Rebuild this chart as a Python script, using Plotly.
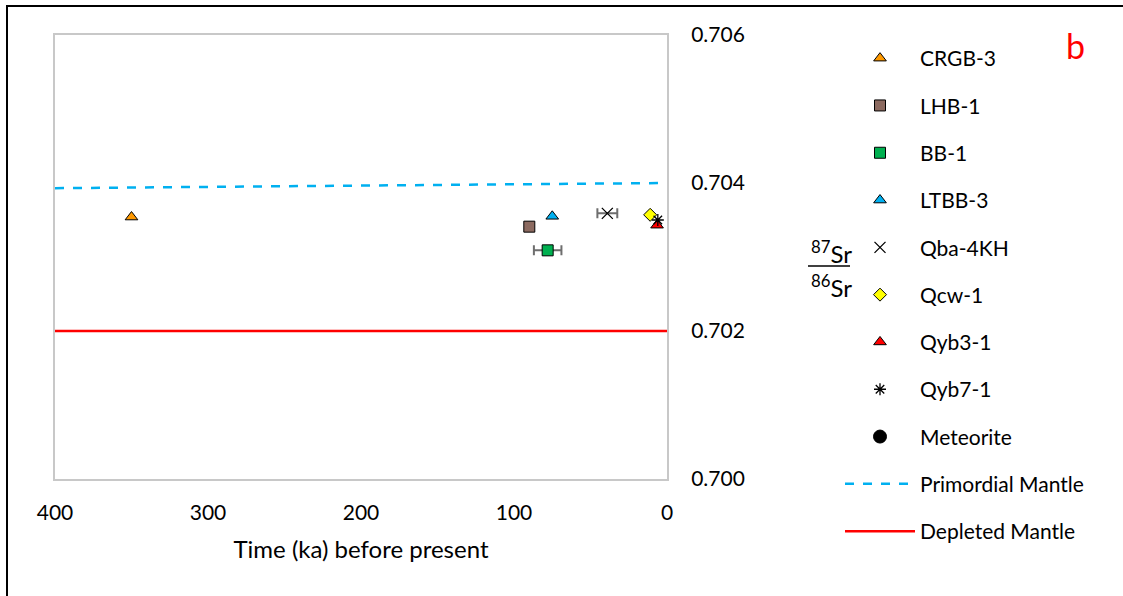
import plotly.graph_objects as go

# Sample ages (ka before present) and initial 87Sr/86Sr ratios
samples = ["CRGB-3", "LHB-1", "BB-1", "LTBB-3", "Qba-4KH", "Qcw-1", "Qyb3-1", "Qyb7-1", "Meteorite"]
age_ka = [350, 90, 78, 75, 39, 11, 6.5, 6, 4567000]
age_err = [0, 0, 9, 0, 6.5, 0, 0, 0, 0]
sr_ratio = [0.70354, 0.70341, 0.70309, 0.70355, 0.70359, 0.70357, 0.70343, 0.70350, 0.69897]

symbols = ["triangle-up", "square", "square", "triangle-up", "x-thin", "diamond", "triangle-up", "asterisk", "circle"]
fills = ["#FF9900", "#8C6A60", "#00B050", "#00B0F0", "#000000", "#FFFF00", "#FF0000", "#000000", "#000000"]
sizes = [11, 11, 11, 11, 11, 10, 11, 10, 13]

# Mantle reference lines
mantle_age = [400, 0]
primordial = [0.70393, 0.70400]
depleted = [0.70200, 0.70200]

FONT = "Lato, Calibri, Carlito, sans-serif"

fig = go.Figure()

fig.add_trace(go.Scatter(
    x=mantle_age, y=primordial, mode="lines", name="Primordial Mantle",
    line=dict(color="#00B0F0", width=2.5, dash="dash"),
    legendgroup="pm", legendrank=10,
))
fig.add_trace(go.Scatter(
    x=mantle_age, y=depleted, mode="lines", name="Depleted Mantle",
    line=dict(color="#FF0000", width=2.5),
    legendgroup="dm", legendrank=11,
))

for i, name in enumerate(samples):
    open_sym = symbols[i] in ("x-thin", "asterisk")
    marker = dict(
        symbol=symbols[i] + ("-open" if open_sym else ""),
        size=sizes[i],
        color=fills[i],
        line=dict(color="#000000", width=1 if not open_sym else 1.3),
    )
    err = None
    if age_err[i] > 0:
        err = dict(type="data", array=[age_err[i]], color="#6E6E6E", thickness=2, width=5)
    fig.add_trace(go.Scatter(
        x=[age_ka[i]], y=[sr_ratio[i]], mode="markers", name=name,
        marker=marker, error_x=err, legendgroup=name, legendrank=i + 1,
        cliponaxis=True,
    ))

fig.update_xaxes(
    range=[400, 0], dtick=100, showgrid=False, zeroline=False,
    showline=True, linecolor="#C8C8C8", linewidth=2, mirror=True,
    ticks="", ticklabelstandoff=14,
    tickfont=dict(family=FONT, size=21, color="#000000"),
    title=dict(text="Time (ka) before present", standoff=18,
               font=dict(family=FONT, size=24, color="#000000")),
)
fig.update_yaxes(
    range=[0.700, 0.706], dtick=0.002, tickformat=".3f", side="right",
    showgrid=False, zeroline=False,
    showline=True, linecolor="#C8C8C8", linewidth=2, mirror=True,
    ticks="", ticklabelstandoff=18,
    tickfont=dict(family=FONT, size=21, color="#000000"),
)

# Fractional y-axis label 87Sr / 86Sr
W_PLOT = 612.0
H_PLOT = 444.0
def px_x(px):
    return (px - 55) / W_PLOT
def px_y(py):
    return (479 - py) / H_PLOT

fig.add_annotation(x=px_x(831), y=px_y(252), xref="paper", yref="paper",
                   xanchor="center", text="<sup>87</sup>Sr", showarrow=False,
                   font=dict(family=FONT, size=24, color="#000000"))
fig.add_annotation(x=px_x(831), y=px_y(286), xref="paper", yref="paper",
                   xanchor="center", text="<sup>86</sup>Sr", showarrow=False,
                   font=dict(family=FONT, size=24, color="#000000"))
fig.add_shape(type="line", xref="paper", yref="paper",
              x0=px_x(808), x1=px_x(850), y0=px_y(266), y1=px_y(266),
              line=dict(color="#000000", width=1.5))

# Panel letter
fig.add_annotation(x=px_x(1075), y=px_y(45), xref="paper", yref="paper",
                   xanchor="center", yanchor="middle",
                   text="b", showarrow=False,
                   font=dict(family=FONT, size=34, color="#FF0000"))

# Outer frame (left and top edges)
fig.add_shape(type="line", xref="paper", yref="paper",
              x0=px_x(7), x1=px_x(7), y0=px_y(596), y1=px_y(6),
              line=dict(color="#000000", width=2))
fig.add_shape(type="line", xref="paper", yref="paper",
              x0=px_x(6), x1=px_x(1123), y0=px_y(6), y1=px_y(6),
              line=dict(color="#000000", width=2))

fig.update_layout(
    width=1123, height=596,
    margin=dict(l=55, r=456, t=35, b=117),
    paper_bgcolor="#FFFFFF", plot_bgcolor="#FFFFFF",
    font=dict(family=FONT, size=18, color="#000000"),
    legend=dict(
        x=px_x(840), y=px_y(38), xanchor="left", yanchor="top",
        font=dict(family=FONT, size=21, color="#000000"),
        tracegroupgap=17, itemwidth=70, bgcolor="rgba(0,0,0,0)",
        traceorder="grouped", maxheight=590,
    ),
)

fig.write_html("out.html")
